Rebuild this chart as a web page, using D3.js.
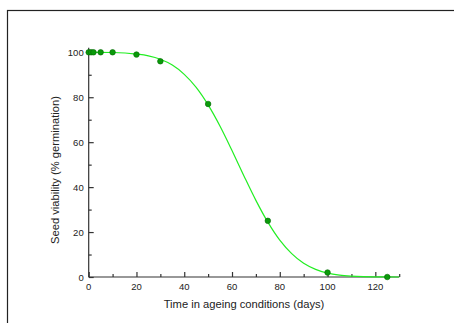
<!DOCTYPE html>
<html>
<head>
<meta charset="utf-8">
<script src="https://cdn.jsdelivr.net/npm/d3@7"></script>
<style>
  body { margin: 0; background: #fff; }
  svg { display: block; font-family: "Liberation Sans", Arial, sans-serif; }
</style>
</head>
<body>
<svg id="chart" width="454" height="323"></svg>
<script>
// measured germination points
const days = [0, 1, 2, 5, 10, 20, 30, 50, 75, 100, 125];
const viability = [100, 100, 100, 100, 100, 99, 96, 77, 25, 2, 0];

// fitted curve
const curveDays = [0, 10, 20, 25, 30, 35, 40, 45, 50, 55, 60, 65, 70, 75, 80, 85, 90, 95, 100, 105, 110, 115, 120, 125, 130];
const curveViability = [100, 99.9, 99.2, 98.4, 96.9, 94.3, 90.2, 84.4, 76.6, 67.1, 56.3, 45, 34.1, 24.4, 16.4, 10.4, 6.1, 3.4, 1.7, 0.8, 0.37, 0.15, 0.06, 0.02, 0.01];

const xTicks = [0, 20, 40, 60, 80, 100, 120];
const yTicks = [0, 20, 40, 60, 80, 100];

const svg = d3.select("#chart");

// outer frame (runs off the right and bottom edge)
svg.append("rect")
  .attr("x", 7.5).attr("y", 10.5)
  .attr("width", 470).attr("height", 330)
  .attr("fill", "none")
  .attr("stroke", "#222")
  .attr("stroke-width", 1.2);

const x = d3.scaleLinear().domain([0, 130]).range([88.7, 399.2]);
const y = d3.scaleLinear().domain([0, 102]).range([277, 47.8]);

const axisColor = "#333";

// x axis, ticks pointing inward
const gx = svg.append("g").attr("transform", `translate(0,${y(0)})`);
gx.call(d3.axisTop(x).tickValues(d3.range(0, 131, 10)).tickSize(3).tickFormat(""));
gx.call(g => g.selectAll(".tick line").filter(d => d % 20 === 0).attr("y2", -5));
gx.select(".domain").attr("d", `M${x(0)},0H${x(130)}`);
gx.selectAll("path, line").attr("stroke", axisColor).attr("stroke-width", 1.2);

svg.append("g").selectAll("text")
  .data(xTicks)
  .enter().append("text")
  .attr("x", d => x(d))
  .attr("y", y(0) + 13)
  .attr("text-anchor", "middle")
  .style("font-size", "9.5px")
  .attr("fill", "#222")
  .text(d => d);

// y axis, ticks pointing inward
const gy = svg.append("g").attr("transform", `translate(${x(0)},0)`);
gy.call(d3.axisRight(y).tickValues(d3.range(0, 101, 10)).tickSize(3).tickFormat(""));
gy.call(g => g.selectAll(".tick line").filter(d => d % 20 === 0).attr("x2", 5));
gy.select(".domain").attr("d", `M0,${y(0)}V${y(102)}`);
gy.selectAll("path, line").attr("stroke", axisColor).attr("stroke-width", 1.2);

svg.append("g").selectAll("text")
  .data(yTicks)
  .enter().append("text")
  .attr("x", x(0) - 5)
  .attr("y", d => y(d) + 3.5)
  .attr("text-anchor", "end")
  .style("font-size", "9.5px")
  .attr("fill", "#222")
  .text(d => d);

// axis titles
svg.append("text")
  .attr("x", 244)
  .attr("y", 308)
  .attr("text-anchor", "middle")
  .style("font-size", "11.2px")
  .attr("fill", "#222")
  .text("Time in ageing conditions (days)");

svg.append("text")
  .attr("transform", "translate(59,170) rotate(-90)")
  .attr("text-anchor", "middle")
  .style("font-size", "11.2px")
  .attr("fill", "#222")
  .text("Seed viability (% germination)");

// fitted curve
const curveData = curveDays.map((d, i) => [d, curveViability[i]]);
svg.append("path")
  .datum(curveData)
  .attr("fill", "none")
  .attr("stroke", "#22ee22")
  .attr("stroke-width", 1.2)
  .attr("d", d3.line().x(d => x(d[0])).y(d => y(d[1])).curve(d3.curveMonotoneX));

// data points
svg.append("g").selectAll("circle")
  .data(days)
  .enter().append("circle")
  .attr("cx", d => x(d))
  .attr("cy", (d, i) => y(viability[i]))
  .attr("r", 2.8)
  .attr("fill", "#0a9a0a")
  .attr("stroke", "#066a06")
  .attr("stroke-width", 0.6);
</script>
</body>
</html>
